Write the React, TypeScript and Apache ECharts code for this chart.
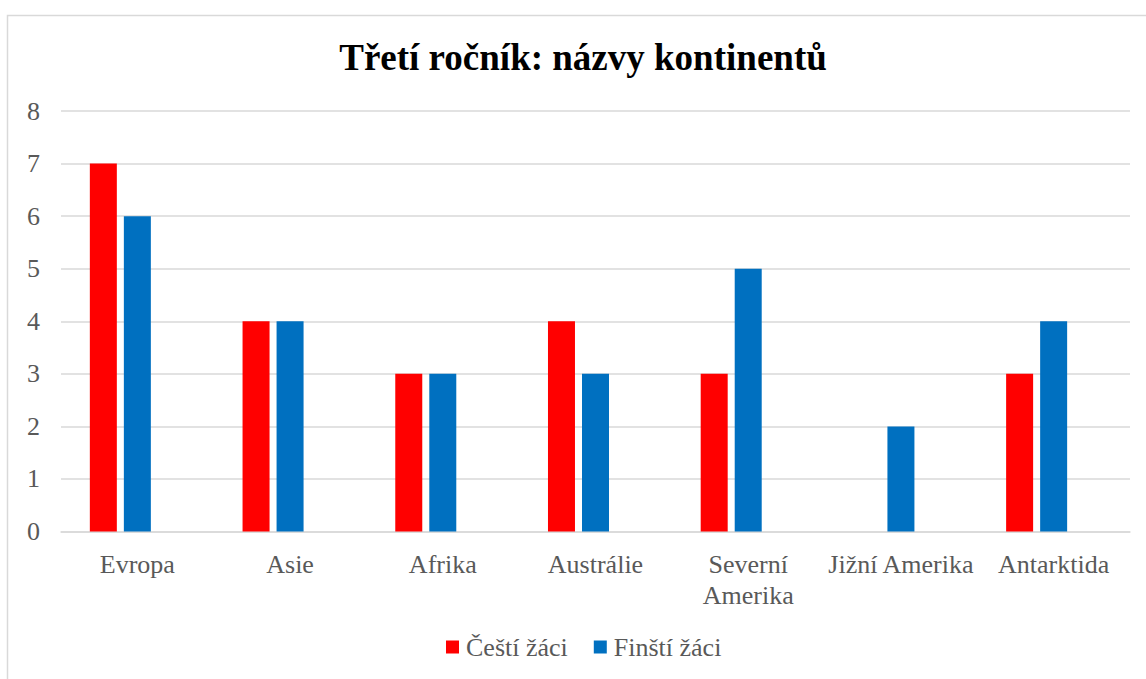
import React, { useEffect, useRef } from "react";
import * as echarts from "echarts";

const categories = ["Evropa", "Asie", "Afrika", "Austrálie", "Severní\nAmerika", "Jižní Amerika", "Antarktida"];
const czechStudents = [7, 4, 3, 4, 3, 0, 3];
const finnishStudents = [6, 4, 3, 3, 5, 2, 4];
const seriesNames = ["Čeští žáci", "Finští žáci"];
const titleText = "Třetí ročník: názvy kontinentů";

const FONT = "'Liberation Serif', 'Times New Roman', serif";
const TEXT = "#595959";

export default function App() {
  const ref = useRef<HTMLDivElement>(null);
  useEffect(() => {
    if (!ref.current) return;
    const chart = echarts.init(ref.current, undefined, { renderer: "svg" });
    chart.setOption({
      animation: false,
      backgroundColor: "#ffffff",
      textStyle: { fontFamily: FONT },
      graphic: [
        {
          type: "rect",
          shape: { x: 7.5, y: 15.5, width: 1300, height: 800 },
          style: { fill: "none", stroke: "#d9d9d9", lineWidth: 1.5 },
          silent: true,
          z: -10,
        },
        {
          type: "text",
          x: 583,
          y: 57,
          style: {
            text: titleText,
            fontFamily: FONT,
            fontWeight: "bold",
            fontSize: 37,
            fill: "#000000",
            textAlign: "center",
            textVerticalAlign: "middle",
          },
        },
      ],
      legend: {
        data: seriesNames,
        left: 446,
        top: 634,
        padding: 0,
        itemWidth: 13,
        itemHeight: 13,
        itemGap: 26,
        icon: "rect",
        textStyle: { fontFamily: FONT, fontSize: 26, color: TEXT, padding: [0, 0, 0, 2] },
      },
      grid: { left: 61, right: 16, top: 111, bottom: 147.5, containLabel: false },
      xAxis: {
        type: "category",
        data: categories,
        axisLine: { lineStyle: { color: "#d9d9d9", width: 1.5 } },
        axisTick: { show: false },
        axisLabel: {
          fontFamily: FONT,
          fontSize: 26,
          color: TEXT,
          margin: 17,
          lineHeight: 31,
          interval: 0,
        },
      },
      yAxis: {
        type: "value",
        min: 0,
        max: 8,
        interval: 1,
        axisLine: { show: false },
        axisTick: { show: false },
        splitLine: { lineStyle: { color: "#d9d9d9", width: 1.5 } },
        axisLabel: { fontFamily: FONT, fontSize: 26, color: TEXT, margin: 21 },
      },
      series: [
        {
          name: seriesNames[0],
          type: "bar",
          data: czechStudents,
          barWidth: 27,
          barGap: "26%",
          itemStyle: { color: "#ff0000" },
        },
        {
          name: seriesNames[1],
          type: "bar",
          data: finnishStudents,
          barWidth: 27,
          barGap: "26%",
          itemStyle: { color: "#0070c0" },
        },
        {
          name: "",
          type: "bar",
          data: [],
          barWidth: 27,
          barGap: "26%",
        },
      ],
    });
    return () => chart.dispose();
  }, []);
  return (
    <div
      ref={ref}
      style={{ position: "absolute", left: 0, top: 0, width: 1146, height: 679 }}
    />
  );
}
